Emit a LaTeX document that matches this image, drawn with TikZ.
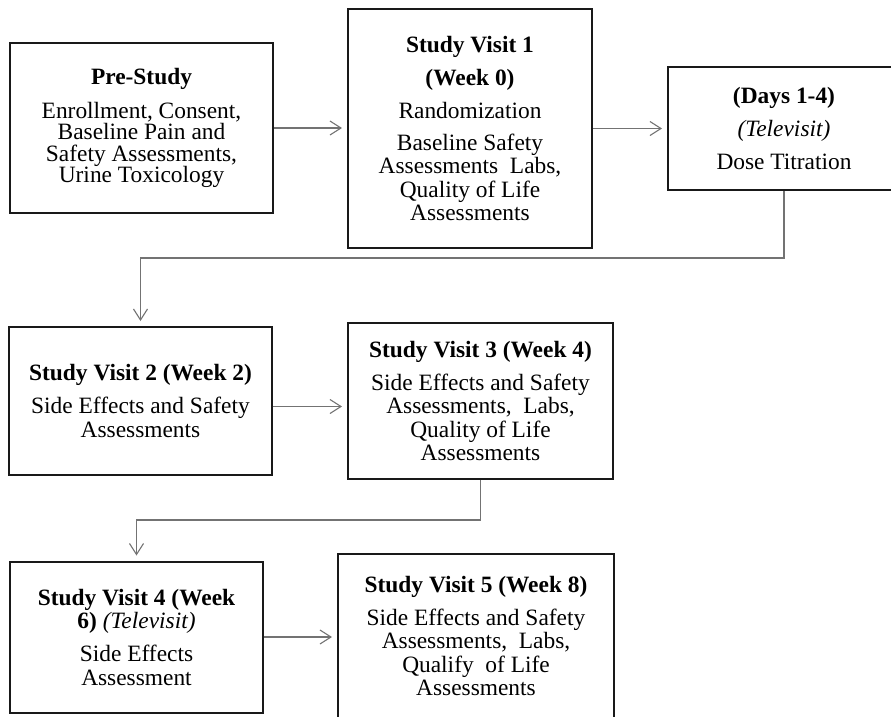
\documentclass[tikz,border=0pt]{standalone}
\usepackage{fontspec}
\setmainfont{Liberation Serif}
\usetikzlibrary{arrows.meta,calc}
\begin{document}
\begin{tikzpicture}[x=1pt,y=-1pt,
  box/.style={draw=black!90, line width=2pt, rectangle, inner sep=0pt, align=center,
    font=\fontsize{23.4}{23.5}\selectfont},
  conn/.style={draw=black!55, line width=1.1pt,
    -{Straight Barb[length=11pt,width=14pt,line width=1.1pt]}, shorten >=5pt}]
\useasboundingbox (0,0) rectangle (891,716);

\node[box, minimum width=263pt, minimum height=170pt, font=\fontsize{23.4}{21.5}\selectfont] (b1) at (141.5,128)
  {\textbf{Pre-Study}\\[12pt]Enrollment, Consent,\\Baseline Pain and\\Safety Assessments,\\Urine Toxicology};

\node[box, minimum width=244pt, minimum height=239pt] (b2) at (470,128.5)
  {\textbf{Study Visit 1}\\[9.5pt]\textbf{(Week 0)}\\[9.5pt]Randomization\\[8.5pt]Baseline Safety\\Assessments\ \ Labs,\\Quality of Life\\Assessments};

\node[box, minimum width=232pt, minimum height=123pt] (b3) at (784,128.5)
  {\textbf{(Days 1-4)}\\[9.5pt]\textit{(Televisit)}\\[9.5pt]Dose Titration};

\node[box, minimum width=263pt, minimum height=148pt] (s2) at (140.5,401)
  {\textbf{Study Visit 2 (Week 2)}\\[9.5pt]Side Effects and Safety\\Assessments};

\node[box, minimum width=265pt, minimum height=156pt] (s3) at (480.5,401)
  {\textbf{Study Visit 3 (Week 4)}\\[9.5pt]Side Effects and Safety\\Assessments,\ \ Labs,\\Quality of Life\\Assessments};

\node[box, minimum width=253pt, minimum height=151pt] (s4) at (136.5,637)
  {\textbf{Study Visit 4 (Week}\\\textbf{6)} \textit{(Televisit)}\\[9.5pt]Side Effects\\Assessment};

\node[box, minimum width=276pt, minimum height=164pt] (s5) at (476,636)
  {\textbf{Study Visit 5 (Week 8)}\\[9.5pt]Side Effects and Safety\\Assessments,\ \ Labs,\\Qualify\ \ of Life\\Assessments};

\coordinate (j1) at (784,258);
\coordinate (j2) at (481,520);

\draw[conn] (b1.east) -- (b1.east -| b2.west);
\draw[conn] (b2.east) -- (b2.east -| b3.west);
\draw[conn] (b3.south) -- (b3.south |- j1) -| (s2.north);
\draw[conn] ($(s2.east)+(0,5.5)$) -- ($(s2.east -| s3.west)+(0,5.5)$);
\draw[conn] (s3.south) -- (s3.south |- j2) -| (s4.north);
\draw[conn] (s4.east) -- (s4.east -| s5.west);
\end{tikzpicture}
\end{document}
